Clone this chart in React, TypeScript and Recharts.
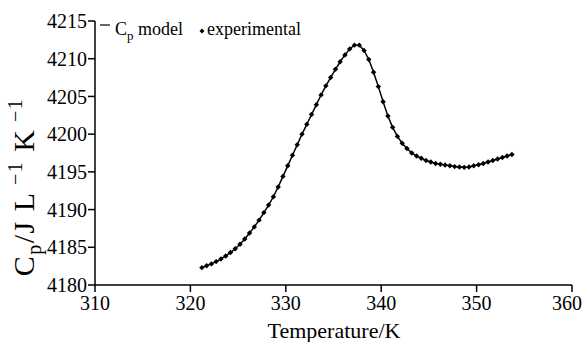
import { LineChart, Line, XAxis, YAxis } from "recharts";

const FONT = "'Liberation Serif', 'Times New Roman', serif";

// temperature (K) and heat capacity (J L^-1 K^-1)
const temps = [
  321.2, 321.7, 322.2, 322.7, 323.2, 323.7, 324.2, 324.7, 325.2, 325.7,
  326.2, 326.7, 327.2, 327.7, 328.2, 328.7, 329.2, 329.7, 330.2, 330.7,
  331.2, 331.7, 332.2, 332.7, 333.2, 333.7, 334.2, 334.7, 335.2, 335.7,
  336.2, 336.7, 337.2, 337.7, 338.2, 338.7, 339.2, 339.7, 340.2, 340.7,
  341.2, 341.7, 342.2, 342.7, 343.2, 343.7, 344.2, 344.7, 345.2, 345.7,
  346.2, 346.7, 347.2, 347.7, 348.2, 348.7, 349.2, 349.7, 350.2, 350.7,
  351.2, 351.7, 352.2, 352.7, 353.2, 353.7,
];

const cpExperimental = [
  4182.3, 4182.55, 4182.8, 4183.1, 4183.45, 4183.85, 4184.3, 4184.8, 4185.4, 4186.1,
  4186.9, 4187.7, 4188.6, 4189.6, 4190.6, 4191.7, 4193.0, 4194.4, 4195.8, 4197.2,
  4198.6, 4200.0, 4201.3, 4202.6, 4203.9, 4205.2, 4206.4, 4207.5, 4208.6, 4209.6,
  4210.5, 4211.3, 4211.8, 4211.8, 4211.1, 4209.9, 4208.2, 4206.3, 4204.3, 4202.4,
  4200.9, 4199.7, 4198.8, 4198.1, 4197.5, 4197.1, 4196.8, 4196.5, 4196.3, 4196.1,
  4196.0, 4195.9, 4195.8, 4195.7, 4195.65, 4195.6, 4195.65, 4195.8, 4195.95, 4196.1,
  4196.3, 4196.5, 4196.7, 4196.9, 4197.1, 4197.3,
];

// model curve follows the measured points
const cpModel = cpExperimental;

const xTicks = [310, 320, 330, 340, 350, 360];
const yTicks = [4180, 4185, 4190, 4195, 4200, 4205, 4210, 4215];

const data = temps.map((t, i) => ({ t, model: cpModel[i], exp: cpExperimental[i] }));

const Diamond = (props: any) => {
  const { cx, cy } = props;
  if (cx == null || cy == null) return null;
  const s = 2.7;
  return (
    <path
      d={`M${cx},${cy - s}L${cx + s},${cy}L${cx},${cy + s}L${cx - s},${cy}Z`}
      fill="#000"
      stroke="none"
    />
  );
};

const XTick = ({ x, y, payload }: any) => {
  // last label is pulled in a little so it stays inside the frame, as in the original
  const last = payload.value === xTicks[xTicks.length - 1];
  return (
    <text
      x={last ? x - 5 : x}
      y={y}
      dy="0.71em"
      textAnchor="middle"
      fontSize={20}
      style={{ fontFamily: FONT }}
      fill="#000"
    >
      {payload.value}
    </text>
  );
};

const YTick = ({ x, y, payload }: any) => (
  <text x={x} y={y} dy="0.355em" textAnchor="end" fontSize={20} style={{ fontFamily: FONT }} fill="#000">
    {payload.value}
  </text>
);

export default function App() {
  return (
    <div style={{ position: "fixed", left: 0, top: 0, width: 584, height: 342, background: "#fff" }}>
      <LineChart width={584} height={342} data={data} margin={{ top: 21, right: 12, left: 0, bottom: 0 }}>
        <XAxis
          dataKey="t"
          type="number"
          domain={[310, 360]}
          ticks={xTicks}
          tick={<XTick />}
          tickSize={7}
          tickMargin={4}
          height={57}
          axisLine={{ stroke: "#000", strokeWidth: 1.5 }}
          tickLine={{ stroke: "#000", strokeWidth: 1.5 }}
        />
        <YAxis
          type="number"
          domain={[4180, 4215]}
          ticks={yTicks}
          tick={<YTick />}
          tickSize={7}
          tickMargin={1}
          width={95}
          axisLine={{ stroke: "#000", strokeWidth: 1.5 }}
          tickLine={{ stroke: "#000", strokeWidth: 1.5 }}
        />
        <Line
          dataKey="model"
          type="linear"
          stroke="#000"
          strokeWidth={1.5}
          dot={false}
          isAnimationActive={false}
        />
        <Line
          dataKey="exp"
          type="linear"
          stroke="none"
          dot={<Diamond />}
          activeDot={false}
          isAnimationActive={false}
        />
      </LineChart>
      <svg
        width={584}
        height={342}
        style={{ position: "absolute", left: 0, top: 0, pointerEvents: "none", fontFamily: FONT }}
        fill="#000"
      >
        <text x={334} y={338} textAnchor="middle" fontSize={22}>
          Temperature/K
        </text>
        <text
          transform="translate(34,187) rotate(-90)"
          textAnchor="middle"
          fontSize={30}
          letterSpacing={1.5}
        >
          C<tspan fontSize={20} dy={7}>p</tspan>
          <tspan dy={-7}>/J L</tspan>
          <tspan fontSize={20} dy={-12}> −1</tspan>
          <tspan dy={12}> K</tspan>
          <tspan fontSize={20} dy={-12}> −1</tspan>
        </text>
        <line x1={100} y1={25} x2={110} y2={25} stroke="#000" strokeWidth={1.2} />
        <text x={115} y={35} fontSize={18}>
          C<tspan fontSize={13} dy={5}>p</tspan>
          <tspan dy={-5}> model</tspan>
        </text>
        <path d="M202,28.5L204.5,31L202,33.5L199.5,31Z" />
        <text x={207} y={35} fontSize={18}>experimental</text>
      </svg>
    </div>
  );
}
